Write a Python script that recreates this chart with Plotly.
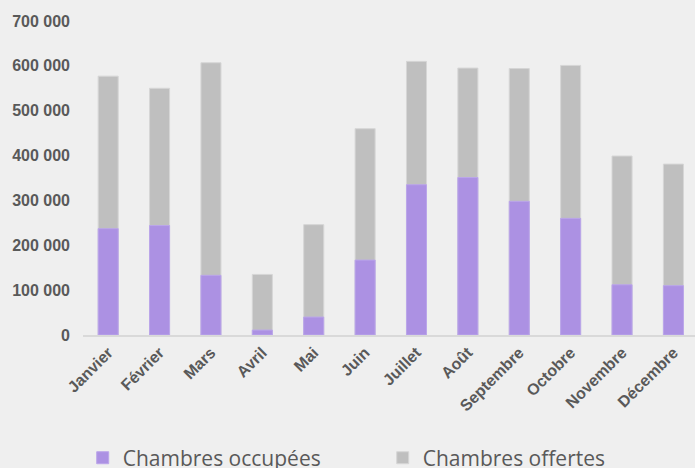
import plotly.graph_objects as go

mois = ["Janvier", "Février", "Mars", "Avril", "Mai", "Juin", "Juillet",
        "Août", "Septembre", "Octobre", "Novembre", "Décembre"]
chambres_offertes = [577000, 550000, 607000, 135000, 246000, 460000,
                     610000, 595000, 594000, 601000, 399000, 381000]
chambres_occupees = [237000, 244000, 133000, 11000, 40000, 167000,
                     335000, 351000, 298000, 260000, 112000, 110000]

fig = go.Figure()

fig.add_trace(go.Bar(
    x=mois,
    y=chambres_offertes,
    name="Chambres offertes",
    marker=dict(color="#BFBFBF", line=dict(color="#D6D6D6", width=1)),
    width=0.39,
    legendrank=2
))

fig.add_trace(go.Bar(
    x=mois,
    y=chambres_occupees,
    name="Chambres occupées",
    marker=dict(color="#AC91E3", line=dict(color="#BBA6EA", width=1)),
    width=0.39,
    legendrank=1
))

fig.update_layout(
    width=695,
    height=468,
    barmode="overlay",
    paper_bgcolor="#EFEFEF",
    plot_bgcolor="#EFEFEF",
    margin=dict(l=83, r=0, t=21, b=133),
    separators=", ",
    legend=dict(
        orientation="h",
        xref="container", yref="container",
        x=0.119, xanchor="left",
        y=0.065, yanchor="top",
        entrywidth=255,
        font=dict(family="Open Sans", size=21, color="#595959"),
        traceorder="normal"
    ),
    xaxis=dict(
        range=[-0.49, 11.42],
        tickangle=-45,
        tickfont=dict(family="Liberation Sans", size=16, color="#595959", weight="bold"),
        showline=True,
        linecolor="#D9D9D9",
        linewidth=2,
        showgrid=False,
        ticks=""
    ),
    yaxis=dict(
        range=[0, 700000],
        dtick=100000,
        tickformat=",d",
        tickfont=dict(family="Liberation Sans", size=16, color="#595959", weight="bold"),
        showgrid=False,
        zeroline=False,
        showline=False,
        ticklabelstandoff=12
    ),
    showlegend=True
)

fig.write_html("out.html", config={"displayModeBar": False},
               post_script="document.body.style.margin='0';")
